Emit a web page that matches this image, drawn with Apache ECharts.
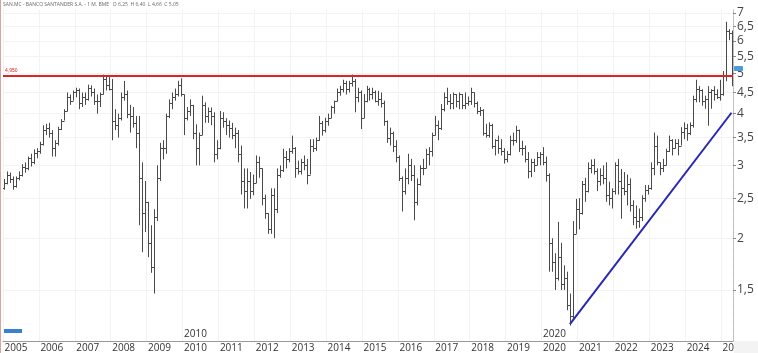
<!DOCTYPE html>
<html>
<head>
<meta charset="utf-8">
<script src="https://cdn.jsdelivr.net/npm/echarts@6/dist/echarts.min.js"></script>
<style>
  html, body { margin: 0; padding: 0; background: #fff; }
  #wrap { width: 758px; height: 353px; }
</style>
</head>
<body>
<div id="wrap"></div>
<script>
// monthly bars, Jan 2005 .. Apr 2025 (one row per year)
var opens = [
  2.65,2.72,2.85,2.78,2.68,2.80,2.85,2.98,2.95,3.12,3.05,3.22,
  3.25,3.38,3.65,3.70,3.60,3.30,3.40,3.68,3.85,4.05,4.40,4.30,
  4.50,4.55,4.25,4.40,4.35,4.62,4.50,4.30,4.30,4.45,4.85,4.70,
  4.60,3.85,3.75,3.90,4.40,4.45,4.00,3.95,3.80,3.60,2.80,2.30,
  2.45,1.95,1.70,2.25,2.80,3.30,3.30,3.95,4.25,4.40,4.45,4.70,
  4.45,3.90,4.05,4.20,3.60,3.30,3.55,4.20,3.95,4.05,3.95,3.20,
  3.30,3.90,3.85,3.75,3.70,3.55,3.60,3.20,2.75,2.60,2.75,2.60,
  2.72,3.05,2.95,2.50,2.30,2.10,2.55,2.35,2.85,2.92,3.15,3.10,
  3.25,3.30,2.95,2.90,3.05,3.00,2.85,3.35,3.30,3.45,3.80,3.65,
  3.85,3.90,4.15,4.28,4.50,4.60,4.75,4.60,4.75,4.80,4.40,4.50,
  3.90,4.30,4.60,4.45,4.50,4.30,4.35,4.25,3.85,3.50,3.60,3.35,
  3.15,2.80,2.60,2.80,3.00,2.85,2.45,2.70,2.95,2.95,3.20,3.25,
  3.55,3.75,3.70,4.10,4.40,4.30,4.25,4.45,4.30,4.45,4.20,4.25,
  4.30,4.50,4.25,4.05,4.08,3.60,3.55,3.75,3.35,3.45,3.30,3.25,
  3.10,3.20,3.45,3.45,3.65,3.30,3.30,3.10,2.90,3.05,3.00,3.15,
  3.20,3.05,2.85,1.95,1.75,1.60,1.80,1.55,1.60,1.38,1.30,2.05,
  2.35,2.30,2.70,2.60,2.95,3.00,2.90,2.75,2.85,2.80,2.55,2.50,
  2.60,3.00,2.75,2.65,2.60,2.70,2.40,2.25,2.20,2.25,2.50,2.62,
  2.65,2.95,3.35,3.05,2.95,3.00,3.25,3.45,3.30,3.40,3.35,3.62,
  3.70,3.60,3.75,4.35,4.60,4.55,4.30,4.35,4.50,4.55,4.45,4.40,
  4.45,4.95,6.35,6.25
];
var highs = [
  2.78,2.90,2.88,2.82,2.82,2.90,3.02,3.05,3.15,3.20,3.28,3.30,
  3.42,3.75,3.78,3.80,3.65,3.45,3.72,3.88,4.10,4.50,4.45,4.55,
  4.62,4.60,4.50,4.50,4.70,4.68,4.60,4.45,4.50,4.97,4.95,4.90,
  4.85,4.10,4.00,4.50,4.80,4.55,4.20,4.15,3.95,3.95,3.05,2.75,
  2.45,2.15,2.35,3.00,3.40,3.45,4.00,4.33,4.50,4.60,4.80,4.87,
  4.45,4.15,4.33,4.20,3.77,3.60,4.42,4.26,4.14,4.14,4.03,3.45,
  4.06,4.03,3.90,3.85,3.80,3.70,3.65,3.35,2.95,2.95,2.89,2.85,
  3.17,3.15,2.95,2.55,2.30,2.64,2.64,2.95,3.00,3.29,3.25,3.30,
  3.54,3.32,3.08,3.11,3.17,3.11,3.47,3.47,3.50,3.95,3.84,3.91,
  4.00,4.18,4.30,4.60,4.67,4.83,4.80,4.80,4.97,4.85,4.62,4.55,
  4.46,4.67,4.62,4.62,4.55,4.54,4.50,4.30,3.85,3.70,3.62,3.45,
  3.17,2.82,2.95,3.20,3.11,3.00,2.79,3.00,3.11,3.29,3.32,3.60,
  3.95,3.85,4.22,4.50,4.62,4.46,4.50,4.46,4.50,4.46,4.50,4.40,
  4.62,4.50,4.28,4.15,4.10,3.78,3.81,3.78,3.47,3.54,3.47,3.30,
  3.25,3.54,3.60,3.74,3.66,3.44,3.35,3.23,3.11,3.11,3.23,3.23,
  3.32,3.15,2.87,2.00,1.84,2.19,1.95,1.72,1.66,1.47,2.20,2.49,
  2.50,2.75,2.80,3.05,3.10,3.11,2.95,2.95,3.00,3.05,2.74,2.64,
  3.05,3.11,2.94,2.89,2.85,2.79,2.47,2.40,2.36,2.54,2.69,2.69,
  3.05,3.60,3.54,3.05,3.11,3.29,3.54,3.47,3.47,3.47,3.71,3.81,
  3.78,3.81,4.42,4.83,4.66,4.58,4.42,4.66,4.58,4.66,4.58,4.83,
  5.07,6.67,6.40,6.35
];
var lows = [
  2.62,2.70,2.72,2.62,2.65,2.76,2.82,2.88,2.92,2.98,3.02,3.12,
  3.20,3.35,3.55,3.50,3.15,3.15,3.35,3.65,3.85,4.05,4.20,4.30,
  4.38,4.10,4.15,4.20,4.30,4.40,4.20,4.00,4.15,4.45,4.55,4.55,
  3.45,3.65,3.50,3.85,4.30,3.90,3.60,3.70,3.30,2.15,1.85,2.07,
  1.80,1.65,1.47,2.20,2.75,3.10,3.20,3.90,4.10,4.30,4.40,4.40,
  3.55,3.85,3.95,3.47,3.00,3.00,3.55,3.80,3.80,3.75,3.05,3.10,
  3.28,3.70,3.55,3.50,3.47,3.30,3.05,2.55,2.36,2.36,2.49,2.54,
  2.72,2.80,2.40,2.23,2.05,2.05,2.00,2.30,2.80,2.89,2.95,3.05,
  3.20,2.80,2.85,2.85,2.92,2.70,2.85,3.23,3.25,3.44,3.54,3.60,
  3.74,3.90,4.00,4.28,4.42,4.50,4.45,4.50,4.65,4.03,4.26,3.67,
  3.90,4.26,4.30,4.33,4.26,4.18,4.14,3.74,3.40,3.35,3.23,3.05,
  2.75,2.32,2.55,2.70,2.75,2.21,2.40,2.68,2.84,2.95,3.00,3.15,
  3.54,3.45,3.65,4.05,4.20,4.10,4.10,4.14,4.10,4.10,4.10,4.18,
  4.20,4.14,3.99,3.95,3.54,3.50,3.50,3.29,3.17,3.20,3.17,3.03,
  3.05,3.17,3.35,3.40,3.23,3.17,3.05,2.79,2.81,2.89,3.00,3.00,
  3.00,2.74,1.66,1.66,1.50,1.58,1.50,1.50,1.34,1.23,1.28,2.05,
  2.10,2.28,2.45,2.58,2.87,2.85,2.60,2.68,2.70,2.45,2.40,2.36,
  2.55,2.55,2.23,2.54,2.40,2.32,2.15,2.11,2.12,2.20,2.45,2.55,
  2.62,2.84,3.00,2.84,2.89,3.00,3.23,3.17,3.29,3.17,3.35,3.47,
  3.44,3.55,3.70,4.26,4.26,4.18,4.11,3.74,4.11,4.30,4.34,4.30,
  4.42,4.79,6.02,4.66
];
var closes = [
  2.72,2.85,2.78,2.68,2.80,2.85,2.98,2.95,3.12,3.05,3.22,3.25,
  3.38,3.65,3.70,3.60,3.30,3.40,3.68,3.85,4.05,4.40,4.30,4.50,
  4.55,4.25,4.40,4.35,4.62,4.50,4.30,4.30,4.45,4.85,4.70,4.60,
  3.85,3.75,3.90,4.40,4.45,4.00,3.95,3.80,3.60,2.80,2.30,2.45,
  1.95,1.70,2.25,2.80,3.30,3.30,3.95,4.25,4.40,4.45,4.70,4.45,
  3.90,4.05,4.20,3.60,3.30,3.55,4.20,3.95,4.05,3.95,3.20,3.30,
  3.90,3.85,3.75,3.70,3.55,3.60,3.20,2.75,2.60,2.75,2.60,2.72,
  3.05,2.95,2.50,2.30,2.10,2.55,2.35,2.85,2.92,3.15,3.10,3.25,
  3.30,2.95,2.90,3.05,3.00,2.85,3.35,3.30,3.45,3.80,3.65,3.85,
  3.90,4.15,4.28,4.50,4.60,4.75,4.60,4.75,4.80,4.40,4.50,3.90,
  4.30,4.60,4.45,4.50,4.30,4.35,4.25,3.85,3.50,3.60,3.35,3.15,
  2.80,2.60,2.80,3.00,2.85,2.45,2.70,2.95,2.95,3.20,3.25,3.55,
  3.75,3.70,4.10,4.40,4.30,4.25,4.45,4.30,4.45,4.20,4.25,4.30,
  4.50,4.25,4.05,4.08,3.60,3.55,3.75,3.35,3.45,3.30,3.25,3.10,
  3.20,3.45,3.45,3.65,3.30,3.30,3.10,2.90,3.05,3.00,3.15,3.20,
  3.05,2.85,1.95,1.75,1.60,1.80,1.55,1.60,1.38,1.30,2.05,2.35,
  2.30,2.70,2.60,2.95,3.00,2.90,2.75,2.85,2.80,2.55,2.50,2.60,
  3.00,2.75,2.65,2.60,2.70,2.40,2.25,2.20,2.25,2.50,2.62,2.65,
  2.95,3.35,3.05,2.95,3.00,3.25,3.45,3.30,3.40,3.35,3.62,3.70,
  3.60,3.75,4.35,4.60,4.55,4.30,4.35,4.50,4.55,4.45,4.40,4.45,
  4.95,6.35,6.25,5.05
];

var yTicks = [1.5, 2, 2.5, 3, 3.5, 4, 4.5, 5, 5.5, 6, 6.5, 7];
var resistance = 4.95;
var trendStart = ['2020-10', 1.24];
var trendEnd = ['2025-04', 4.02];
var lastPrice = 5.1;
var decadeLabels = ['2010-01', '2020-01'];

var months = [];
for (var y = 2005; y <= 2025; y++) {
  for (var m = 1; m <= 12; m++) {
    if (y === 2025 && m > 4) break;
    months.push(y + '-' + (m < 10 ? '0' + m : m));
  }
}

var bars = months.map(function (mo, i) {
  return [i, opens[i], highs[i], lows[i], closes[i]];
});

function isJan(idx, val) { return /-01$/.test(val); }
function isDecade(idx, val) { return decadeLabels.indexOf(val) >= 0; }

function ohlcBar(params, api) {
  var i = api.value(0);
  var op = api.coord([i, api.value(1)]);
  var hi = api.coord([i, api.value(2)]);
  var lo = api.coord([i, api.value(3)]);
  var cl = api.coord([i, api.value(4)]);
  var x = Math.round(hi[0]) + 0.5;
  var st = { stroke: '#4a4a4a', lineWidth: 1 };
  var yo = Math.round(op[1]) + 0.5, yc = Math.round(cl[1]) + 0.5;
  return {
    type: 'group',
    children: [
      { type: 'line', shape: { x1: x, y1: hi[1], x2: x, y2: lo[1] }, style: st },
      { type: 'line', shape: { x1: x - 1.5, y1: yo, x2: x, y2: yo }, style: st },
      { type: 'line', shape: { x1: x, y1: yc, x2: x + 1.5, y2: yc }, style: st }
    ]
  };
}

var option = {
  animation: false,
  backgroundColor: '#fff',
  grid: { left: 3, right: 25, top: 10, bottom: 12 },
  xAxis: [
    {
      type: 'category',
      data: months,
      boundaryGap: true,
      axisLine: { lineStyle: { color: '#9a9a9a' } },
      axisTick: { interval: isJan, length: 4, lineStyle: { color: '#9a9a9a' } },
      axisLabel: {
        interval: isJan,
        formatter: function (v) { return v.slice(0, 4); },
        align: 'left', margin: 2,
        fontSize: 10, color: '#333', fontFamily: 'Open Sans'
      },
      splitLine: { show: true, interval: isJan, lineStyle: { color: '#f3f3f3' } }
    },
    {
      type: 'category',
      data: months,
      boundaryGap: true,
      position: 'bottom',
      axisLine: { show: false },
      axisTick: { interval: isDecade, inside: true, length: 4, lineStyle: { color: '#9a9a9a' } },
      axisLabel: {
        interval: isDecade, inside: true,
        formatter: function (v) { return v.slice(0, 4); },
        align: 'left', margin: 2,
        fontSize: 10, color: '#333', fontFamily: 'Open Sans'
      },
      splitLine: { show: false }
    }
  ],
  yAxis: {
    type: 'log',
    position: 'right',
    min: 1.129,
    max: 7.12,
    axisLine: { show: true, lineStyle: { color: '#b5b5b5', type: 'dotted' } },
    axisTick: { show: true, customValues: yTicks, length: 3, lineStyle: { color: '#888' } },
    axisLabel: {
      customValues: yTicks,
      formatter: function (v) { return String(v).replace('.', ','); },
      margin: 4, fontSize: 12, color: '#444', fontFamily: 'Open Sans'
    },
    splitLine: { show: true, lineStyle: { color: '#f3f3f3' } }
  },
  series: [
    {
      name: 'SAN',
      type: 'custom',
      renderItem: ohlcBar,
      data: bars,
      encode: { x: 0, y: [1, 2, 3, 4] },
      clip: true,
      markLine: {
        silent: true,
        symbol: 'none',
        animation: false,
        data: [
          {
            yAxis: resistance,
            lineStyle: { color: '#d92525', width: 2, type: 'solid' },
            label: {
              show: true, position: 'insideStartTop', distance: 2,
              formatter: '4,950', fontSize: 5, color: '#d92525'
            }
          },
          [
            { coord: trendStart, lineStyle: { color: '#2727b5', width: 2, type: 'solid' }, label: { show: false } },
            { coord: trendEnd }
          ]
        ]
      }
    }
  ],
  graphic: [
    { id: 'header', type: 'text', left: 3, top: 2,
      style: { text: 'SAN.MC - BANCO SANTANDER S.A. - 1 M. BME   O 6,25  H 6,40  L 4,66  C 5,05',
               fontSize: 5, fill: '#666', fontFamily: 'Open Sans' } },
    { id: 'logo', type: 'rect', left: 3, top: 329, shape: { width: 19, height: 4 }, style: { fill: '#3b7fd0' } },
    { id: 'corner', type: 'rect', left: 734, top: 341, shape: { width: 24, height: 12 }, style: { fill: '#f3f3f3' }, z: 100 },
    { id: 'border', type: 'line', shape: { x1: 0.5, y1: 0, x2: 0.5, y2: 353 }, style: { stroke: '#d9a3a3', lineWidth: 1 } }
  ]
};

var myChart = echarts.init(document.getElementById('wrap'));
myChart.setOption(option);

// last-price tag on the price axis, placed through the chart's own scale
var tagPos = myChart.convertToPixel({ seriesIndex: 0 }, [months.length - 1, lastPrice]);
myChart.setOption({
  graphic: [
    { id: 'priceTag', type: 'rect', left: 734, top: tagPos[1] - 4, z: 100,
      shape: { width: 9, height: 5, r: 1 }, style: { fill: '#4a9be0' } }
  ]
});
</script>
</body>
</html>
